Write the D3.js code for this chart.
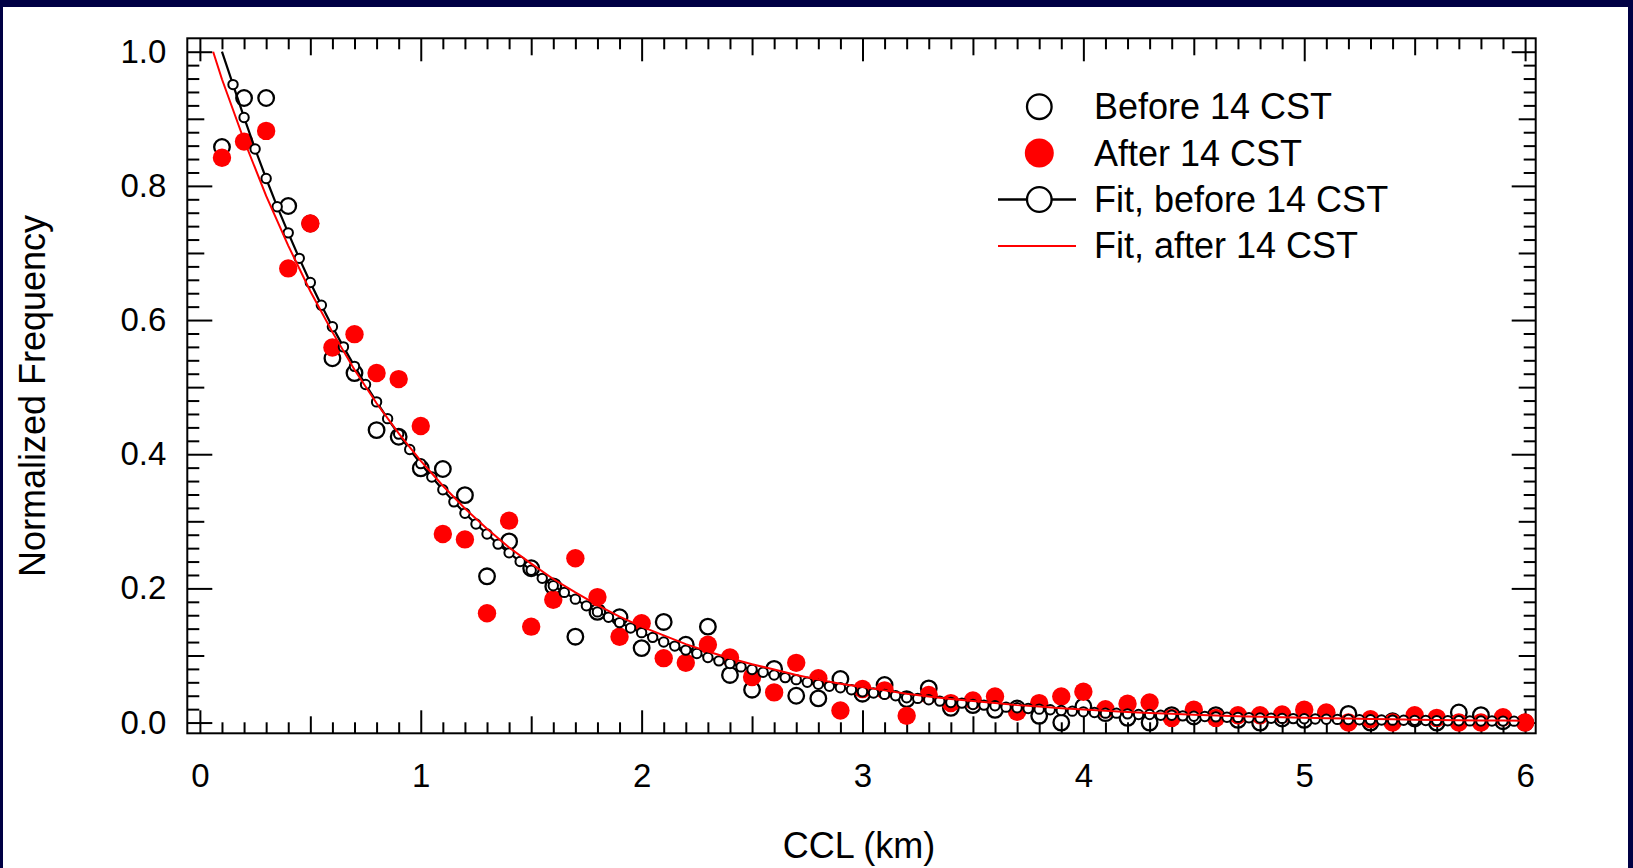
<!DOCTYPE html>
<html>
<head>
<meta charset="utf-8">
<script src="https://cdn.jsdelivr.net/npm/d3@7"></script>
<style>
  html, body { margin: 0; padding: 0; background: #000044; }
  svg { display: block; }
  text { font-family: "Liberation Sans", Arial, Helvetica, sans-serif; fill: #000; }
</style>
</head>
<body>
<svg id="chart" width="1633" height="868"></svg>
<script>
// ---------------- data ----------------
const ccl = [0.1,0.2,0.3,0.4,0.5,0.6,0.7,0.8,0.9,1.0,1.1,1.2,1.3,1.4,1.5,1.6,1.7,1.8,1.9,2.0,
             2.1,2.2,2.3,2.4,2.5,2.6,2.7,2.8,2.9,3.0,3.1,3.2,3.3,3.4,3.5,3.6,3.7,3.8,3.9,4.0,
             4.1,4.2,4.3,4.4,4.5,4.6,4.7,4.8,4.9,5.0,5.1,5.2,5.3,5.4,5.5,5.6,5.7,5.8,5.9,6.0];
const beforeFreq = [0.858,0.931,0.931,0.770,0.744,0.543,0.521,0.436,0.426,0.379,
                    0.378,0.339,0.218,0.270,0.230,0.203,0.128,0.165,0.157,0.111,
                    0.150,0.116,0.143,0.071,0.049,0.080,0.040,0.036,0.065,0.043,
                    0.056,0.035,0.051,0.022,0.026,0.019,0.021,0.010,0.000,0.024,
                    0.014,0.007,0.000,0.011,0.009,0.011,0.004,0.000,0.006,0.004,
                    0.014,0.013,0.000,0.002,0.006,0.000,0.015,0.011,0.002,0.000];
const afterFreq = [0.842,0.866,0.882,0.677,0.744,0.559,0.579,0.521,0.512,0.442,
                   0.281,0.273,0.163,0.301,0.143,0.183,0.245,0.187,0.128,0.148,
                   0.096,0.089,0.116,0.097,0.068,0.045,0.089,0.066,0.018,0.050,
                   0.048,0.010,0.041,0.029,0.033,0.039,0.016,0.029,0.039,0.046,
                   0.020,0.028,0.030,0.007,0.019,0.007,0.011,0.011,0.012,0.019,
                   0.015,0.000,0.005,0.000,0.011,0.007,0.000,0.000,0.008,0.000];
const fitBeforeX = [0.10,0.15,0.20,0.25,0.30,0.35,0.40,0.45,0.50,0.55,0.60,0.65,0.70,0.75,0.80,0.85,0.90,0.95,
                    1.00,1.05,1.10,1.15,1.20,1.25,1.30,1.35,1.40,1.45,1.50,1.55,1.60,1.65,1.70,1.75,1.80,1.85,1.90,1.95,
                    2.00,2.05,2.10,2.15,2.20,2.25,2.30,2.35,2.40,2.45,2.50,2.55,2.60,2.65,2.70,2.75,2.80,2.85,2.90,2.95,
                    3.00,3.05,3.10,3.15,3.20,3.25,3.30,3.35,3.40,3.45,3.50,3.55,3.60,3.65,3.70,3.75,3.80,3.85,3.90,3.95,
                    4.00,4.05,4.10,4.15,4.20,4.25,4.30,4.35,4.40,4.45,4.50,4.55,4.60,4.65,4.70,4.75,4.80,4.85,4.90,4.95,
                    5.00,5.05,5.10,5.15,5.20,5.25,5.30,5.35,5.40,5.45,5.50,5.55,5.60,5.65,5.70,5.75,5.80,5.85,5.90,5.95];
const fitBeforeY = [1.000,0.951,0.902,0.855,0.811,0.769,0.730,0.692,0.656,0.622,0.590,0.560,0.531,0.504,0.478,0.453,0.430,0.407,
                    0.386,0.366,0.347,0.329,0.312,0.296,0.281,0.266,0.253,0.240,0.227,0.215,0.204,0.194,0.184,0.174,0.165,0.157,0.149,0.141,
                    0.134,0.127,0.120,0.114,0.108,0.103,0.097,0.092,0.088,0.083,0.079,0.075,0.071,0.067,0.064,0.060,0.057,0.054,0.052,0.049,
                    0.046,0.044,0.042,0.040,0.037,0.036,0.034,0.032,0.030,0.029,0.027,0.026,0.025,0.023,0.022,0.021,0.020,0.019,0.018,0.017,
                    0.016,0.015,0.014,0.014,0.013,0.012,0.012,0.011,0.011,0.010,0.0095,0.009,0.0085,0.008,0.0077,0.0072,0.0069,0.0065,0.0062,0.0059,
                    0.0056,0.0053,0.0050,0.0047,0.0045,0.0043,0.0041,0.0038,0.0036,0.0034,0.0033,0.0031,0.0029,0.0028,0.0027,0.0025,0.0024,0.0023,0.0022,0.0021];
const fitAfterX = [0.06,0.1,0.2,0.3,0.4,0.5,0.6,0.7,0.8,0.9,1.0,1.1,1.2,1.3,1.4,1.5,1.6,1.7,1.8,1.9,2.0,
                   2.1,2.2,2.3,2.4,2.5,2.6,2.7,2.8,2.9,3.0,3.1,3.2,3.3,3.4,3.5,3.6,3.7,3.8,3.9,4.0,
                   4.1,4.2,4.3,4.4,4.5,4.6,4.7,4.8,4.9,5.0,5.1,5.2,5.3,5.4,5.5,5.6,5.7,5.8,5.9,6.0];
const fitAfterY = [1.000,0.959,0.868,0.785,0.711,0.643,0.582,0.526,0.476,0.431,0.390,
                   0.353,0.319,0.289,0.261,0.237,0.214,0.194,0.175,0.158,0.143,
                   0.130,0.117,0.106,0.096,0.087,0.079,0.071,0.064,0.058,0.053,
                   0.048,0.043,0.039,0.035,0.032,0.029,0.026,0.024,0.0215,0.0194,
                   0.0176,0.0159,0.0144,0.0130,0.0118,0.0107,0.0096,0.0087,0.0079,0.0071,
                   0.0065,0.0059,0.0053,0.0048,0.0043,0.0039,0.0036,0.0032,0.0029,0.0026];
const xMajorTicks = [0,1,2,3,4,5,6];
const yMajorTicks = [0.0,0.2,0.4,0.6,0.8,1.0];
const legendLabels = ["Before 14 CST","After 14 CST","Fit, before 14 CST","Fit, after 14 CST"];
const xTitle = "CCL (km)";
const yTitle = "Normalized Frequency";

// ---------------- layout ----------------
const W = 1633, H = 868;
const plot = {left: 187.3, right: 1535.7, top: 38.3, bottom: 733.3};
const svg = d3.select("#chart");

svg.append("rect").attr("x",0).attr("y",0).attr("width",W).attr("height",H).attr("fill","#000044");
svg.append("rect").attr("x",3).attr("y",7).attr("width",W-3-5).attr("height",H-7).attr("fill","#ffffff");

const x = d3.scaleLinear().domain([-0.057, 6.048]).range([plot.left, plot.right]);
const y = d3.scaleLinear().domain([-0.016, 1.02]).range([plot.bottom, plot.top]);

// tick sets
const xMinor = d3.range(0, 61).map(i => i/10).filter(v => Math.abs(v*2 - Math.round(v*2)) > 1e-6);
const xMid = [0.5,1.5,2.5,3.5,4.5,5.5];
const yMinor = d3.range(0, 51).map(i => i/50).filter(v => Math.abs(v*10 - Math.round(v*10)) > 1e-6);
const yMid = [0.1,0.3,0.5,0.7,0.9];

function styleAxis(g) {
  g.select(".domain").remove();
  g.selectAll(".tick line").attr("stroke","#000").attr("stroke-width",2);
}
const labelFont = 33;

// bottom
[[xMinor,-11],[xMid,-17]].forEach(([vals,len]) => {
  svg.append("g").attr("transform",`translate(0,${plot.bottom})`)
    .call(d3.axisBottom(x).tickValues(vals).tickSize(len).tickFormat(""))
    .call(styleAxis);
});
svg.append("g").attr("transform",`translate(0,${plot.bottom})`)
  .call(d3.axisBottom(x).tickValues(xMajorTicks).tickSize(-23).tickPadding(30).tickFormat(d3.format("d")))
  .call(styleAxis)
  .call(g => g.selectAll("text").attr("font-size",labelFont).attr("fill","#000")
     .attr("font-family",'"Liberation Sans", Arial, sans-serif'));
// top
[[xMinor,-11],[xMid,-17],[xMajorTicks,-23]].forEach(([vals,len]) => {
  svg.append("g").attr("transform",`translate(0,${plot.top})`)
    .call(d3.axisTop(x).tickValues(vals).tickSize(len).tickFormat(""))
    .call(styleAxis);
});
// left
[[yMinor,-12],[yMid,-17]].forEach(([vals,len]) => {
  svg.append("g").attr("transform",`translate(${plot.left},0)`)
    .call(d3.axisLeft(y).tickValues(vals).tickSize(len).tickFormat(""))
    .call(styleAxis);
});
svg.append("g").attr("transform",`translate(${plot.left},0)`)
  .call(d3.axisLeft(y).tickValues(yMajorTicks).tickSize(-25).tickPadding(21).tickFormat(d3.format(".1f")))
  .call(styleAxis)
  .call(g => g.selectAll("text").attr("font-size",labelFont).attr("fill","#000")
     .attr("font-family",'"Liberation Sans", Arial, sans-serif'));
// right
[[yMinor,-12],[yMid,-17],[yMajorTicks,-24]].forEach(([vals,len]) => {
  svg.append("g").attr("transform",`translate(${plot.right},0)`)
    .call(d3.axisRight(y).tickValues(vals).tickSize(len).tickFormat(""))
    .call(styleAxis);
});
// frame
svg.append("rect").attr("x",plot.left).attr("y",plot.top)
  .attr("width",plot.right-plot.left).attr("height",plot.bottom-plot.top)
  .attr("fill","none").attr("stroke","#000").attr("stroke-width",2);

// titles
svg.append("text").attr("x",859).attr("y",858).attr("text-anchor","middle")
  .attr("font-size",36).text(xTitle);
svg.append("text").attr("transform","translate(45,396) rotate(-90)").attr("text-anchor","middle")
  .attr("font-size",36).text(yTitle);

// ---------------- marks ----------------
const before = ccl.map((c,i) => ({x:c, y:beforeFreq[i]}));
const after = ccl.map((c,i) => ({x:c, y:afterFreq[i]}));
const fitB = fitBeforeX.map((c,i) => ({x:c, y:fitBeforeY[i]}));
const fitA = fitAfterX.map((c,i) => ({x:c, y:fitAfterY[i]}));

svg.append("g").selectAll("circle").data(before).join("circle")
  .attr("cx",d => x(d.x)).attr("cy",d => y(d.y)).attr("r",7.8)
  .attr("fill","none").attr("stroke","#000").attr("stroke-width",2.3);

svg.append("g").selectAll("circle").data(after).join("circle")
  .attr("cx",d => x(d.x)).attr("cy",d => y(d.y)).attr("r",9.2)
  .attr("fill","#ff0000");

const line = d3.line().x(d => x(d.x)).y(d => y(d.y));
svg.append("path").datum(fitB).attr("d",line)
  .attr("fill","none").attr("stroke","#000").attr("stroke-width",2.2);
svg.append("g").selectAll("circle").data(fitB.slice(1)).join("circle")
  .attr("cx",d => x(d.x)).attr("cy",d => y(d.y)).attr("r",4.7)
  .attr("fill","#fff").attr("stroke","#000").attr("stroke-width",2);

svg.append("path").datum(fitA).attr("d",line)
  .attr("fill","none").attr("stroke","#ff0000").attr("stroke-width",2);

// ---------------- legend ----------------
const lg = svg.append("g");
const rowY = i => 106.7 + i*46.4;
const symX = 1039.3, textX = 1094;
legendLabels.forEach((lab,i) => {
  const cy = rowY(i);
  if (i === 0) {
    lg.append("circle").attr("cx",symX).attr("cy",cy).attr("r",12.3)
      .attr("fill","#fff").attr("stroke","#000").attr("stroke-width",2.3);
  } else if (i === 1) {
    lg.append("circle").attr("cx",symX).attr("cy",cy).attr("r",14.5).attr("fill","#ff0000");
  } else if (i === 2) {
    lg.append("line").attr("x1",998).attr("x2",1076).attr("y1",cy).attr("y2",cy)
      .attr("stroke","#000").attr("stroke-width",2.3);
    lg.append("circle").attr("cx",symX).attr("cy",cy).attr("r",12.3)
      .attr("fill","#fff").attr("stroke","#000").attr("stroke-width",2.3);
  } else {
    lg.append("line").attr("x1",998).attr("x2",1076).attr("y1",cy).attr("y2",cy)
      .attr("stroke","#ff0000").attr("stroke-width",2);
  }
  lg.append("text").attr("x",textX).attr("y",cy + 12.5).attr("font-size",36).text(lab);
});
</script>
</body>
</html>
